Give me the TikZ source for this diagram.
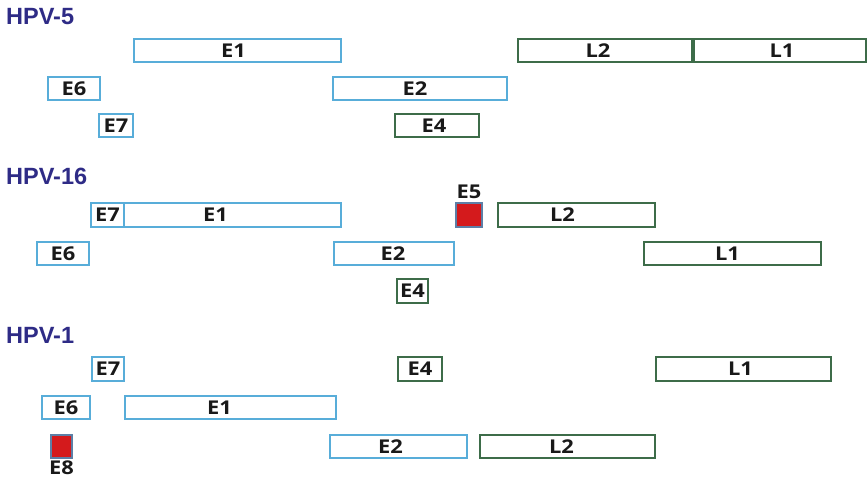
\documentclass[tikz,border=0pt]{standalone}
\usepackage{fontspec}
\setmainfont{Open Sans}
\newfontfamily\genefont[FakeStretch=1.15]{Open Sans}
\newfontfamily\titlefont{Liberation Sans}
\definecolor{earlyblue}{HTML}{58ADD9}
\definecolor{lategreen}{HTML}{3D6C49}
\definecolor{oncored}{HTML}{D41A1C}
\definecolor{redrim}{HTML}{5D7FA6}
\definecolor{navy}{HTML}{2E2B86}
\tikzset{
  gene/.style={line width=1.8pt, fill=white, inner sep=0pt, outer sep=0pt, anchor=north west},
  early/.style={gene, draw=earlyblue},
  late/.style={gene, draw=lategreen},
  onco/.style={gene, draw=redrim, line width=1.4pt, fill=oncored},
  genetext/.style={inner sep=0pt, text=black!90, font=\genefont\fontsize{19}{19}\selectfont\bfseries},
  typetitle/.style={anchor=north west, inner sep=0pt, text=navy,
    font=\titlefont\fontsize{23.5}{23.5}\selectfont\bfseries},
}
% \gene{style}{name}{left}{top}{width}{height}{text}{text shift}
\newcommand\gene[8]{%
  \node[#1, minimum width=#5pt, minimum height=#6pt,
        label={[genetext, xshift=#8pt]center:#7}] (#2) at (#3,#4) {};}
\begin{document}
\begin{tikzpicture}[x=1pt, y=-1pt]
\useasboundingbox (0,0) rectangle (867,480);

% HPV-5
\node[typetitle] (t5) at (6,8) {HPV-5};
\gene{early}{a-e1}{134}{39}{207}{23}{E1}{-4}
\gene{late}{a-l2}{518}{39}{174}{23}{L2}{-7}
\gene{late}{a-l1}{694}{39}{172}{23}{L1}{2}
\gene{early}{a-e6}{48}{77}{52}{23}{E6}{0}
\gene{early}{a-e2}{333}{77}{174}{23}{E2}{-5}
\gene{early}{a-e7}{99}{114}{34}{23}{E7}{0}
\gene{late}{a-e4}{395}{114}{84}{23}{E4}{-3}

% HPV-16
\node[typetitle] (t16) at (6,168) {HPV-16};
\gene{early}{b-e7}{91}{203}{33}{24}{E7}{0}
\gene{early}{b-e1}{124}{203}{217}{24}{E1}{-17}
\gene{onco}{b-e5}{456}{203}{26}{24}{}{0}
\node[genetext, anchor=south] (b-e5t) at (b-e5.north) [yshift=4pt] {E5};
\gene{late}{b-l2}{498}{203}{157}{24}{L2}{-14}
\gene{early}{b-e6}{37}{242}{52}{23}{E6}{0}
\gene{early}{b-e2}{334}{242}{120}{23}{E2}{-1}
\gene{late}{b-l1}{644}{242}{177}{23}{L1}{-5}
\gene{late}{b-e4}{397}{279}{31}{24}{E4}{0}

% HPV-1
\node[typetitle] (t1) at (6,327) {HPV-1};
\gene{early}{c-e7}{92}{357}{32}{24}{E7}{0}
\gene{late}{c-e4}{398}{357}{44}{24}{E4}{0}
\gene{late}{c-l1}{656}{357}{175}{24}{L1}{-3}
\gene{early}{c-e6}{42}{396}{48}{23}{E6}{0}
\gene{early}{c-e1}{125}{396}{211}{23}{E1}{-11}
\gene{onco}{c-e8}{51}{435}{21}{23}{}{0}
\node[genetext, anchor=north] (c-e8t) at (c-e8.south) [yshift=-3pt] {E8};
\gene{early}{c-e2}{330}{435}{137}{23}{E2}{-8}
\gene{late}{c-l2}{480}{435}{175}{23}{L2}{-6}
\end{tikzpicture}
\end{document}
